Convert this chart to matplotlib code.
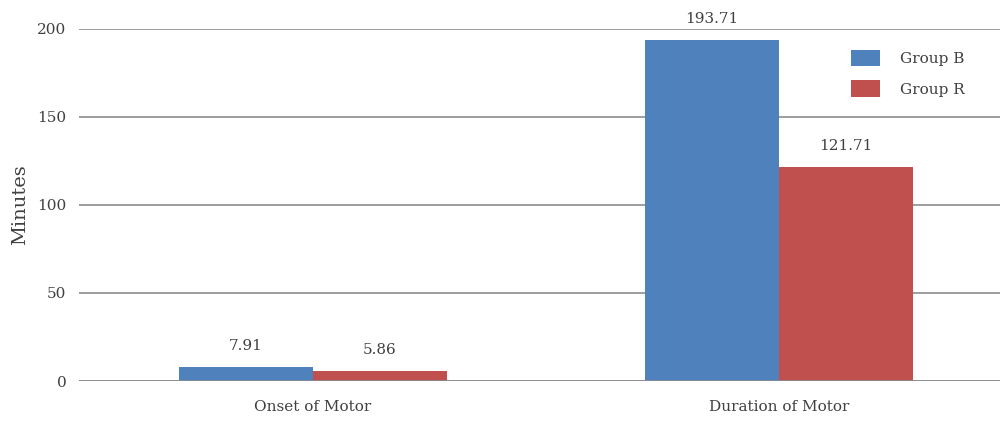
import matplotlib
matplotlib.use("Agg")
import matplotlib.pyplot as plt
import numpy as np

categories = ["Onset of Motor", "Duration of Motor"]
group_b = [7.91, 193.71]
group_r = [5.86, 121.71]
series_names = ["Group B", "Group R"]
yticks = [0, 50, 100, 150, 200]

plt.rcParams["font.family"] = ["DejaVu Serif"]

fig = plt.figure(figsize=(10.03, 4.23), dpi=100)
ax = fig.add_axes([79 / 1003, 1 - 381 / 423, 921 / 1003, 352 / 423])

x = np.arange(len(categories))
w = 0.2876
bb = ax.bar(x - w / 2, group_b, w, color="#4F81BD", label=series_names[0], zorder=3)
br = ax.bar(x + w / 2, group_r, w, color="#C0504D", label=series_names[1], zorder=3)

for bars, vals in ((bb, group_b), (br, group_r)):
    for b, v in zip(bars, vals):
        ax.text(b.get_x() + b.get_width() / 2, v + 8, f"{v:.2f}", ha="center",
                va="bottom", fontsize=11, color="#404040", clip_on=False)

ax.set_xlim(-0.502, 1.474)
ax.set_ylim(0, 200)
ax.set_yticks(yticks)
ax.set_xticks(x)
ax.set_xticklabels(categories)
ax.yaxis.grid(True, color="#8c8c8c", linewidth=1.2, zorder=0)
ax.tick_params(axis="both", length=0, labelsize=11, labelcolor="#404040")
ax.tick_params(axis="y", pad=9)
ax.tick_params(axis="x", pad=14)
for s in ax.spines.values():
    s.set_visible(False)
ax.axhline(0, color="#8c8c8c", linewidth=1.2, zorder=4)
ax.set_ylabel("Minutes", fontsize=14, color="#404040", labelpad=6)

ax.legend(loc="upper left", bbox_to_anchor=(0.823, 0.98), frameon=False,
          fontsize=11, handlelength=1.9, handleheight=1.3, handletextpad=1.3,
          labelspacing=0.9, labelcolor="#404040")

fig.savefig("out.png", dpi=100)
